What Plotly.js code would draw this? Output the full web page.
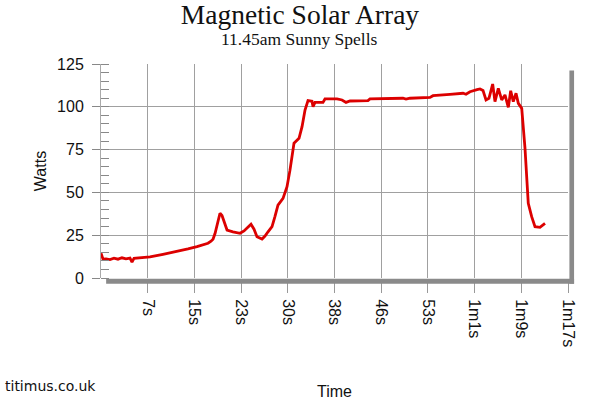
<!DOCTYPE html>
<html>
<head>
<meta charset="utf-8">
<script src="https://cdn.plot.ly/plotly-3.0.1.min.js"></script>
<style>
  html, body { margin: 0; padding: 0; background: #fff; }
  #plotter { width: 600px; height: 400px; }
</style>
</head>
<body>
<div id="plotter"></div>
<script>
// seconds since start of the sample
var seconds = [0, 0.16, 0.33, 0.82, 1.48, 2.14, 2.80, 3.46, 4.12, 4.78, 5.11, 5.44, 6.10,
    7.25, 8.08, 10.22, 11.71, 13.03, 14.34, 15.83, 16.98, 17.64, 18.14, 18.47, 18.80,
    19.29, 19.62, 19.95, 20.28, 20.78, 21.76, 22.92, 23.58, 24.24, 24.73, 25.23, 25.72,
    26.55, 27.04, 27.54, 28.20, 28.69, 29.18, 30.01, 30.67, 31.16, 31.82, 32.65, 33.15,
    33.64, 34.13, 34.79, 34.96, 35.29, 36.60, 36.93, 38.91, 39.74, 40.40, 41.06, 44.02,
    44.35, 46.83, 49.79, 50.29, 50.95, 54.25, 54.74, 57.54, 59.69, 60.18, 60.84, 62.00,
    62.49, 62.99, 63.48, 63.97, 64.58, 64.96, 65.51, 66.07, 66.61, 67.16, 67.55, 67.98,
    68.43, 68.81, 69.37, 69.91, 70.19, 70.45, 71.01, 71.56, 72.38, 73.21];

// watts
var watts = [14.5, 12, 11, 11.2, 10.8, 11.6, 11.0, 11.8, 11.2, 11.6, 9.3, 11.5, 11.7,
    12.1, 12.3, 13.8, 14.8, 16, 17, 18.3, 19.6, 20.3, 21.5, 22.6, 26,
    34, 37.8, 36.5, 33, 28, 27, 26.1, 27.5, 30, 31.4, 28.5, 24.1,
    22.8, 24.5, 27, 30, 36, 42.6, 46.5, 53.3, 63, 78.7, 81.6, 88.4,
    98.1, 103.6, 103.2, 100, 102.6, 102.6, 104.6, 104.6, 104, 102.6, 103.4, 103.6,
    104.6, 104.8, 105, 104.5, 105, 105.5, 106.5, 107.3, 107.9, 107.3, 108.8, 110,
    110.4, 109.5, 104, 105, 113.3, 103, 110.8, 104, 106.9, 99.7, 109.4, 103,
    107.9, 102, 99.1, 75.8, 57.2, 43.6, 35.8, 30, 29.6, 31.9];

var timeTicks = [7.7, 15.4, 23.1, 30.8, 38.5, 46.2, 53.9, 61.6, 69.3, 77.0];
var timeLabels = ['7s', '15s', '23s', '30s', '38s', '46s', '53s', '1m1s', '1m9s', '1m17s'];

var sans = 'Liberation Sans, Arial, sans-serif';
var serif = 'Liberation Serif, Times New Roman, serif';

var data = [{
    x: seconds,
    y: watts,
    type: 'scatter',
    mode: 'lines',
    line: {color: '#dc0000', width: 2.8},
    hoverinfo: 'x+y'
}];

var layout = {
    width: 600,
    height: 400,
    margin: {l: 101, r: 32, t: 64, b: 122},
    paper_bgcolor: '#fff',
    plot_bgcolor: '#fff',
    showlegend: false,
    title: {
        text: 'Magnetic Solar Array',
        font: {family: serif, size: 27.5, color: '#111'},
        x: 0.5, xanchor: 'center',
        y: 0.964, yanchor: 'middle'
    },
    xaxis: {
        range: [0, 77],
        tickvals: timeTicks,
        ticktext: timeLabels,
        tickangle: 90,
        ticks: 'outside',
        ticklen: 14,
        tickcolor: '#999',
        ticklabelstandoff: 3,
        showgrid: true,
        gridcolor: '#a0a0a0',
        zeroline: false,
        showline: false,
        tickfont: {family: sans, size: 16, color: '#111'},
        title: {text: 'Time', font: {family: sans, size: 16, color: '#111'}, standoff: 40},
        fixedrange: true
    },
    yaxis: {
        range: [0, 125],
        tickvals: [0, 25, 50, 75, 100, 125],
        ticks: 'outside',
        ticklen: 8,
        tickcolor: '#888',
        ticklabelstandoff: 5,
        showgrid: true,
        gridcolor: '#a0a0a0',
        zeroline: false,
        showline: true,
        linecolor: '#aaa',
        linewidth: 1,
        minor: {dtick: 5, ticks: 'inside', ticklen: 8, tickcolor: '#888', showgrid: false},
        tickfont: {family: sans, size: 16, color: '#111'},
        title: {text: 'Watts', font: {family: sans, size: 16, color: '#111'}, standoff: 6},
        fixedrange: true
    },
    shapes: [
        // drop shadow under and right of the plot frame
        {type: 'rect', xref: 'paper', yref: 'paper', x0: 0.011, x1: 1.013, y0: -0.027, y1: -0.003,
         fillcolor: '#8a8a8a', line: {width: 0}},
        {type: 'rect', xref: 'paper', yref: 'paper', x0: 1.003, x1: 1.013, y0: -0.027, y1: 0.97,
         fillcolor: '#8a8a8a', line: {width: 0}}
    ],
    annotations: [{
        text: '11.45am Sunny Spells',
        xref: 'paper', yref: 'paper',
        x: 0.425, xanchor: 'center',
        y: 1.117, yanchor: 'middle',
        showarrow: false,
        font: {family: serif, size: 17.5, color: '#111'}
    }, {
        text: 'titimus.co.uk',
        xref: 'paper', yref: 'paper',
        x: -0.21, xanchor: 'left',
        y: -0.506, yanchor: 'middle',
        showarrow: false,
        font: {family: 'DejaVu Sans, Verdana, sans-serif', size: 14, color: '#111'}
    }]
};

Plotly.newPlot('plotter', data, layout, {displayModeBar: false, staticPlot: true});
</script>
</body>
</html>
